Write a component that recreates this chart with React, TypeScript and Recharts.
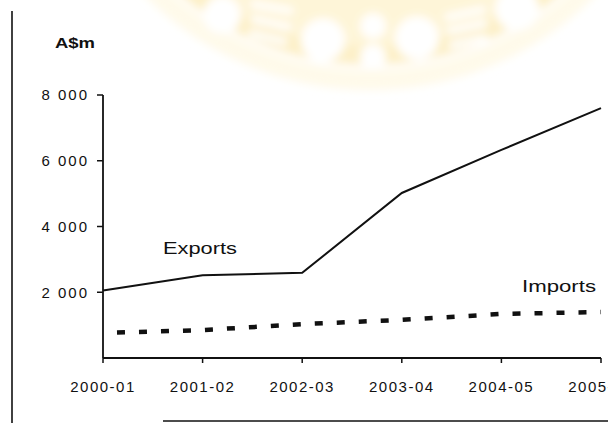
import React from 'react';
import { LineChart, Line, XAxis, YAxis } from 'recharts';

// Financial years shown along the horizontal axis
const years = ['2000-01', '2001-02', '2002-03', '2003-04', '2004-05', '2005-06'];
// Values in A$ million
const exportsValues = [2050, 2520, 2590, 5020, 6330, 7600];
const importsValues = [760, 850, 1030, 1160, 1340, 1400];
// Labelled values on the value axis
const valueTicks = [2000, 4000, 6000, 8000];

const data = years.map((year, i) => ({
  year,
  exports: exportsValues[i],
  imports: importsValues[i],
}));

const FONT = '"Liberation Sans", Arial, Helvetica, sans-serif';
const INK = '#111';

const withSpaces = (v: number) => String(v).replace(/\B(?=(\d{3})+(?!\d))/g, ' ');

// Faint printed crest behind the chart
const CX = 370;
const CY = -226;

function Emblem() {
  return (
    <svg width={608} height={423} style={{ position: 'absolute', left: 0, top: 0 }}>
      <defs>
        <filter id="soft" x="-20%" y="-20%" width="140%" height="140%">
          <feGaussianBlur stdDeviation="4" />
        </filter>
      </defs>
      <g filter="url(#soft)">
        <circle cx={CX} cy={CY} r={316} fill="#fffaea" />
        <circle cx={CX} cy={CY} r={296} fill="#ffffff" />
        <circle cx={CX} cy={CY} r={291} fill="#fdf0c8" />
        <circle cx={CX} cy={CY} r={272} fill="#fef5d8" />
        <circle cx={222} cy={15} r={19} fill="#ffffff" />
        <rect x={250} y={4} width={44} height={7} rx={3} fill="#ffffff" transform="rotate(10 272 7)" />
        <rect x={250} y={20} width={42} height={7} rx={3} fill="#ffffff" transform="rotate(12 271 23)" />
        <rect x={248} y={34} width={40} height={7} rx={3} fill="#ffffff" transform="rotate(14 268 37)" />
        <circle cx={323} cy={40} r={22} fill="#ffffff" />
        <circle cx={373} cy={26} r={13} fill="#ffffff" />
        <circle cx={373} cy={57} r={13} fill="#ffffff" />
        <circle cx={417} cy={38} r={22} fill="#ffffff" />
        <rect x={444} y={10} width={42} height={7} rx={3} fill="#ffffff" transform="rotate(-12 465 13)" />
        <rect x={446} y={24} width={42} height={7} rx={3} fill="#ffffff" transform="rotate(-12 467 27)" />
        <rect x={448} y={38} width={40} height={7} rx={3} fill="#ffffff" transform="rotate(-12 468 41)" />
        <circle cx={517} cy={9} r={22} fill="#ffffff" />
      </g>
    </svg>
  );
}

function Annotations() {
  return (
    <svg
      width={608}
      height={423}
      style={{ position: 'absolute', left: 0, top: 0, pointerEvents: 'none' }}
    >
      {/* page edges */}
      <line x1={12} y1={11} x2={12} y2={423} stroke={INK} strokeWidth={1.6} />
      <line x1={163} y1={421} x2={608} y2={421} stroke={INK} strokeWidth={1.6} />
      <text
        x={55}
        y={48}
        fontFamily={FONT}
        fontWeight="bold"
        fontSize={15}
        fill={INK}
        textLength={40}
        lengthAdjust="spacingAndGlyphs"
      >
        A$m
      </text>
      <text
        x={163}
        y={254}
        fontFamily={FONT}
        fontSize={17}
        fill={INK}
        textLength={74}
        lengthAdjust="spacingAndGlyphs"
      >
        Exports
      </text>
      <text
        x={522}
        y={292}
        fontFamily={FONT}
        fontSize={17}
        fill={INK}
        textLength={74}
        lengthAdjust="spacingAndGlyphs"
      >
        Imports
      </text>
    </svg>
  );
}

export default function App() {
  return (
    <div
      style={{
        position: 'absolute',
        left: 0,
        top: 0,
        width: 608,
        height: 423,
        overflow: 'hidden',
        background: '#ffffff',
      }}
    >
      <Emblem />
      <div style={{ position: 'absolute', left: 0, top: 0 }}>
        <LineChart
          width={640}
          height={423}
          data={data}
          margin={{ top: 95, right: 39, bottom: 35, left: 43 }}
        >
          <XAxis
            dataKey="year"
            interval={0}
            height={30}
            tickSize={5}
            tickMargin={18}
            axisLine={{ stroke: INK, strokeWidth: 1.8 }}
            tickLine={{ stroke: INK, strokeWidth: 1.5 }}
            tick={{ fill: INK, fontSize: 15, fontFamily: FONT, letterSpacing: 1.5 }}
          />
          <YAxis
            width={60}
            domain={[0, 8000]}
            ticks={valueTicks}
            tickFormatter={withSpaces}
            tickSize={6}
            tickMargin={8}
            axisLine={{ stroke: INK, strokeWidth: 1.8 }}
            tickLine={{ stroke: INK, strokeWidth: 1.5 }}
            tick={{ fill: INK, fontSize: 15, fontFamily: FONT, letterSpacing: 2 }}
          />
          <Line
            type="linear"
            dataKey="exports"
            stroke={INK}
            strokeWidth={2}
            dot={false}
            isAnimationActive={false}
          />
          <Line
            type="linear"
            dataKey="imports"
            stroke={INK}
            strokeWidth={4.5}
            strokeDasharray="8 14"
            strokeDashoffset={8}
            dot={false}
            isAnimationActive={false}
          />
        </LineChart>
      </div>
      <Annotations />
    </div>
  );
}
